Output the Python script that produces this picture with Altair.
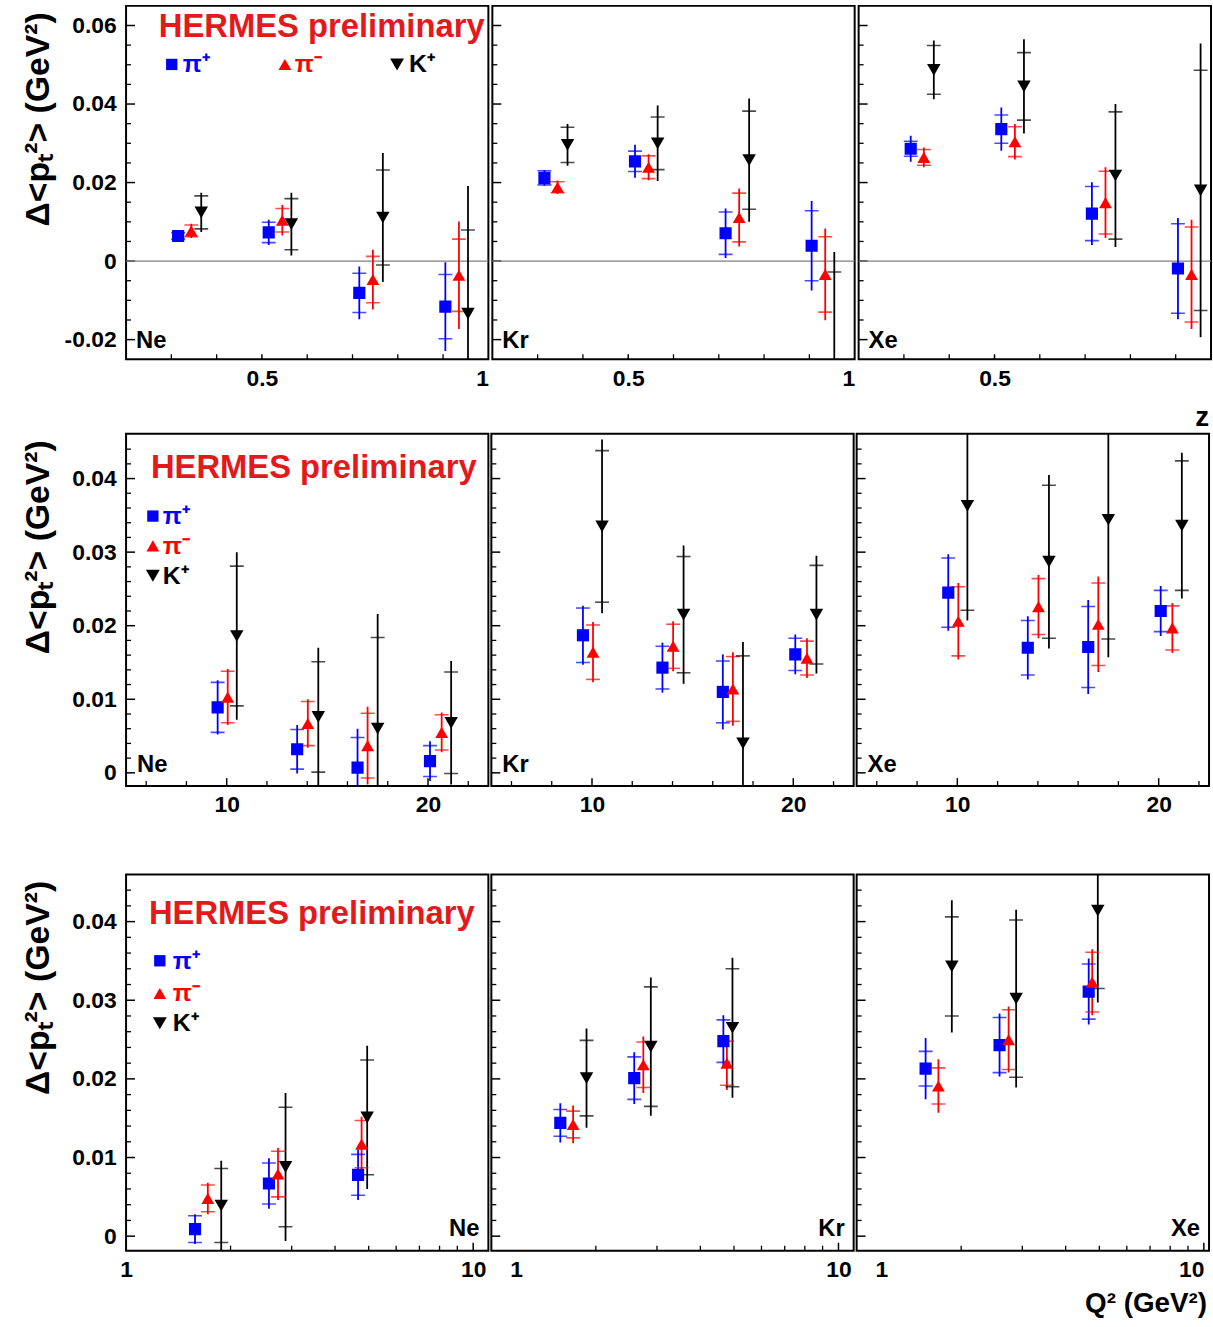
import altair as alt
import pandas as pd

FONT = "Liberation Sans"
HADRONS = ["pi+", "pi-", "K+"]
HADRON_COLORS = ["#0000ff", "#ff0000", "#000000"]
HADRON_SHAPES = ["square", "triangle-up", "triangle-down"]
MARKER_SIZES = [150, 185, 215]
LEGEND_LABELS = ["π⁺", "π⁻", "K⁺"]
ATOMS = ["Ne", "Kr", "Xe"]
PRELIM = "HERMES preliminary"
Y_TITLE = "Δ<pₜ²> (GeV²)"
RED_TEXT = "#e3191c"

# ---------------- top row: z dependence (inner lists: Ne, Kr, Xe) ----------------
Z_X_PIP = [0.315, 0.515, 0.715, 0.905]
Z_X_PIM = [0.344, 0.545, 0.745, 0.935]
Z_X_KP = [0.366, 0.565, 0.767, 0.955]
Z_VAL_PIP = [[0.0064, 0.0073, -0.0081, -0.0116], [0.0212, 0.0254, 0.0071, 0.0039], [0.0286, 0.0336, 0.0121, -0.0019]]
Z_STAT_PIP = [[0.0008, 0.0026, 0.0050, 0.0082], [0.0018, 0.0026, 0.0054, 0.0089], [0.0019, 0.0036, 0.0069, 0.0114]]
Z_TOT_PIP = [[0.0010, 0.0032, 0.0067, 0.0113], [0.0020, 0.0042, 0.0063, 0.0114], [0.0033, 0.0055, 0.0080, 0.0129]]
Z_VAL_PIM = [[0.0077, 0.0104, -0.0047, -0.0036], [0.0188, 0.0239, 0.0111, -0.0034], [0.0264, 0.0304, 0.0149, -0.0034]]
Z_STAT_PIM = [[0.0015, 0.0030, 0.0059, 0.0092], [0.0014, 0.0029, 0.0062, 0.0096], [0.0020, 0.0038, 0.0080, 0.0121]]
Z_TOT_PIM = [[0.0018, 0.0039, 0.0076, 0.0137], [0.0017, 0.0033, 0.0074, 0.0117], [0.0025, 0.0045, 0.0090, 0.0139]]
Z_VAL_KP = [[0.0124, 0.0094, 0.0111, -0.0134], [0.0296, 0.0300, 0.0257, -0.0300], [0.0487, 0.0445, 0.0218, 0.0180]]
Z_STAT_KP = [[0.0042, 0.0065, 0.0121, 0.0213], [0.0045, 0.0067, 0.0125, 0.0272], [0.0062, 0.0086, 0.0162, 0.0306]]
Z_TOT_KP = [[0.0050, 0.0080, 0.0164, 0.0325], [0.0053, 0.0096, 0.0157, 0.0323], [0.0075, 0.0120, 0.0182, 0.0374]]

# ---------------- middle row: nu dependence ----------------
NU_X_PIP = [9.55, 13.5, 16.5, 20.1]
NU_X_PIM = [10.05, 14.03, 17.0, 20.68]
NU_X_KP = [10.5, 14.55, 17.5, 21.15]
NU_VAL_PIP = [[0.0089, 0.0032, 0.0007, 0.0016], [0.0187, 0.0143, 0.0110, 0.0161], [0.0245, 0.0170, 0.0171, 0.0220]]
NU_STAT_PIP = [[0.0034, 0.0027, 0.0041, 0.0021], [0.0037, 0.0029, 0.0042, 0.0022], [0.0047, 0.0037, 0.0055, 0.0028]]
NU_TOT_PIP = [[0.0037, 0.0033, 0.0053, 0.0027], [0.0040, 0.0034, 0.0051, 0.0027], [0.0052, 0.0043, 0.0064, 0.0034]]
NU_VAL_PIM = [[0.0103, 0.0067, 0.0037, 0.0055], [0.0164, 0.0172, 0.0114, 0.0156], [0.0206, 0.0226, 0.0202, 0.0197]]
NU_STAT_PIM = [[0.0035, 0.0030, 0.0044, 0.0024], [0.0037, 0.0030, 0.0044, 0.0023], [0.0047, 0.0038, 0.0056, 0.0030]]
NU_TOT_PIM = [[0.0038, 0.0033, 0.0053, 0.0027], [0.0041, 0.0034, 0.0050, 0.0027], [0.0052, 0.0043, 0.0065, 0.0034]]
NU_VAL_KP = [[0.0186, 0.0076, 0.0060, 0.0068], [0.0335, 0.0215, 0.0040, 0.0215], [0.0363, 0.0287, 0.0344, 0.0336]]
NU_STAT_KP = [[0.0095, 0.0075, 0.0124, 0.0069], [0.0103, 0.0079, 0.0119, 0.0067], [0.0142, 0.0104, 0.0162, 0.0088]]
NU_TOT_KP = [[0.0114, 0.0094, 0.0156, 0.0084], [0.0118, 0.0094, 0.0138, 0.0080], [0.0156, 0.0118, 0.0187, 0.0099]]

# ---------------- bottom row: Q^2 dependence ----------------
Q2_X_PIP = [1.58, 2.58, 4.66]
Q2_X_PIM = [1.72, 2.74, 4.77]
Q2_X_KP = [1.88, 2.88, 4.95]
Q2_VAL_PIP = [[0.0009, 0.0067, 0.0078], [0.0144, 0.0201, 0.0248], [0.0213, 0.0243, 0.0311]]
Q2_STAT_PIP = [[0.0017, 0.0026, 0.0026], [0.0017, 0.0027, 0.0027], [0.0022, 0.0035, 0.0035]]
Q2_TOT_PIP = [[0.0019, 0.0032, 0.0032], [0.0025, 0.0033, 0.0033], [0.0039, 0.0040, 0.0042]]
Q2_VAL_PIM = [[0.0048, 0.0079, 0.0117], [0.0142, 0.0218, 0.0220], [0.0191, 0.0250, 0.0323]]
Q2_STAT_PIM = [[0.0017, 0.0029, 0.0030], [0.0017, 0.0029, 0.0028], [0.0023, 0.0038, 0.0038]]
Q2_TOT_PIM = [[0.0020, 0.0033, 0.0035], [0.0024, 0.0036, 0.0034], [0.0034, 0.0042, 0.0042]]
Q2_VAL_KP = [[0.0039, 0.0088, 0.0151], [0.0201, 0.0241, 0.0265], [0.0343, 0.0302, 0.0414]]
Q2_STAT_KP = [[0.0047, 0.0076, 0.0073], [0.0048, 0.0076, 0.0075], [0.0063, 0.0100, 0.0099]]
Q2_TOT_KP = [[0.0057, 0.0094, 0.0091], [0.0063, 0.0088, 0.0089], [0.0084, 0.0113, 0.0117]]

# ---------------- axis ticks / labels ----------------
Z_XLABELS = [[0.5, 1.0], [0.5, 1.0], [0.5]]
Z_XMAJOR = [0.5]
Z_XMINOR = [0.3, 0.4, 0.6, 0.7, 0.8, 0.9]
Z_YMAJOR = [-0.02, 0, 0.02, 0.04, 0.06]
Z_YMINOR = [-0.015, -0.01, -0.005, 0.005, 0.01, 0.015, 0.025, 0.03, 0.035, 0.045, 0.05, 0.055]
NU_XLABELS = [[10, 20], [10, 20], [10, 20]]
NU_XMAJOR = [10, 20]
NU_XMINOR = [6, 8, 12, 14, 16, 18, 22]
Q2_XLABELS = [[1, 10], [1, 10], [1, 10]]
Q2_XMAJOR = [10]
Q2_XMINOR = [2, 3, 4, 5, 6, 7, 8, 9]
LOW_YMAJOR = [0, 0.01, 0.02, 0.03, 0.04]
LOW_YMINOR = [0.002, 0.004, 0.006, 0.008, 0.012, 0.014, 0.016, 0.018, 0.022, 0.024,
              0.026, 0.028, 0.032, 0.034, 0.036, 0.038, 0.042, 0.044]

PANEL_W = [365, 365, 355]

ROWS = [
    dict(H=356, xtype="linear", xdom=[[0.2, 1.0], [0.2, 1.0], [0.2, 0.978]], ydom=[-0.025, 0.065],
         xs=[Z_X_PIP, Z_X_PIM, Z_X_KP], vals=[Z_VAL_PIP, Z_VAL_PIM, Z_VAL_KP],
         stats=[Z_STAT_PIP, Z_STAT_PIM, Z_STAT_KP], tots=[Z_TOT_PIP, Z_TOT_PIM, Z_TOT_KP],
         xlabels=Z_XLABELS, xfmt="~g", xmajor=Z_XMAJOR, xminor=Z_XMINOR, ymajor=Z_YMAJOR, yminor=Z_YMINOR,
         zero=True, prelim=(33, 31), legend_pos=[(46, 59, 57), (160, 59, 170), (273, 59, 285)],
         atom_pos="bl", atom_xy=(10, -11), xmaj_len=5),
    dict(H=355, xtype="linear", xdom=[[5, 23], [5, 23], [5, 22.5]], ydom=[-0.0018, 0.0461],
         xs=[NU_X_PIP, NU_X_PIM, NU_X_KP], vals=[NU_VAL_PIP, NU_VAL_PIM, NU_VAL_KP],
         stats=[NU_STAT_PIP, NU_STAT_PIM, NU_STAT_KP], tots=[NU_TOT_PIP, NU_TOT_PIM, NU_TOT_KP],
         xlabels=NU_XLABELS, xfmt="d", xmajor=NU_XMAJOR, xminor=NU_XMINOR, ymajor=LOW_YMAJOR, yminor=LOW_YMINOR,
         zero=False, prelim=(25, 45), legend_pos=[(27, 83, 37), (27, 113, 37), (27, 143, 37)],
         atom_pos="bl", atom_xy=(11, -14), xmaj_len=8),
    dict(H=379, xtype="log", xdom=[[1, 11.06], [1, 11.06], [1, 10.35]], ydom=[-0.00184, 0.046],
         xs=[Q2_X_PIP, Q2_X_PIM, Q2_X_KP], vals=[Q2_VAL_PIP, Q2_VAL_PIM, Q2_VAL_KP],
         stats=[Q2_STAT_PIP, Q2_STAT_PIM, Q2_STAT_KP], tots=[Q2_TOT_PIP, Q2_TOT_PIM, Q2_TOT_KP],
         xlabels=Q2_XLABELS, xfmt="~g", xmajor=Q2_XMAJOR, xminor=Q2_XMINOR, ymajor=LOW_YMAJOR, yminor=LOW_YMINOR,
         zero=False, prelim=(23, 50), legend_pos=[(34, 87, 47), (34, 120, 47), (34, 150, 47)],
         atom_pos="br", atom_xy=(-9, -15), xmaj_len=8),
]


def build_df(R, a):
    rows = []
    for h in range(3):
        for x, v, s, t in zip(R["xs"][h], R["vals"][h][a], R["stats"][h][a], R["tots"][h][a]):
            rows.append({"x": x, "v": v, "slo": v - s, "shi": v + s,
                         "tlo": v - t, "thi": v + t, "h": HADRONS[h]})
    return pd.DataFrame(rows)


def text_layer(s, x, y, size, color="black", align="left", baseline="alphabetic", weight="bold"):
    return alt.Chart(pd.DataFrame({"s": [s]})).mark_text(
        align=align, baseline=baseline, font=FONT, fontSize=size, fontWeight=weight, color=color
    ).encode(text="s:N", x=alt.value(x), y=alt.value(y))


def make_panel(r, a):
    R = ROWS[r]
    W = PANEL_W[a]
    H = R["H"]
    df = build_df(R, a)
    xscale = alt.Scale(type=R["xtype"], domain=R["xdom"][a], nice=False, zero=False)
    yscale = alt.Scale(domain=R["ydom"], nice=False, zero=False)

    xa = dict(values=R["xlabels"][a], format=R["xfmt"], ticks=False, domain=False, grid=False,
              labelFlush=False, labelFont=FONT, labelFontSize=23, labelFontWeight="bold",
              labelColor="black", labelPadding=8, title=None)
    if r == 0:
        xa["labelAlign"] = {"condition": {"test": "datum.value == 1", "value": "right"}, "value": "center"}
    if r == 2 and a > 0:
        xa["labelOffset"] = {"condition": {"test": "datum.value == 1", "value": 25}, "value": 0}
    if r == 2 and a == 2:
        xa["labelAlign"] = {"condition": {"test": "datum.value == 10", "value": "right"}, "value": "center"}
    xaxis = alt.Axis(**xa)

    if a == 0:
        yaxis = alt.Axis(values=R["ymajor"],
                         labelExpr="datum.value < 0 ? '-' + format(-datum.value, '~g') : format(datum.value, '~g')",
                         ticks=False, domain=False, grid=False, labelFont=FONT, labelFontSize=23,
                         labelFontWeight="bold", labelColor="black", labelPadding=10,
                         title=Y_TITLE, titleFont=FONT, titleFontSize=34, titleFontWeight="bold",
                         titleColor="black", titleAngle=270, titleAlign="right", titleBaseline="middle",
                         titleX=-88, titleY=6)
    else:
        yaxis = None

    def X(f):
        return alt.X(f, type="quantitative", scale=xscale, axis=xaxis)

    def Y(f):
        return alt.Y(f, type="quantitative", scale=yscale, axis=yaxis)

    color = alt.Color("h:N", scale=alt.Scale(domain=HADRONS, range=HADRON_COLORS), legend=None)
    shape = alt.Shape("h:N", scale=alt.Scale(domain=HADRONS, range=HADRON_SHAPES), legend=None)
    size = alt.Size("h:N", scale=alt.Scale(domain=HADRONS, range=MARKER_SIZES), legend=None)

    layers = []
    # axis ticks drawn inward
    layers.append(alt.Chart(pd.DataFrame({"t": R["ymajor"]})).mark_rule(color="black", strokeWidth=1.5)
                  .encode(y=Y("t"), x=alt.value(0), x2=alt.value(9)))
    layers.append(alt.Chart(pd.DataFrame({"t": R["yminor"]})).mark_rule(color="black", strokeWidth=1.3)
                  .encode(y=Y("t"), x=alt.value(0), x2=alt.value(5)))
    layers.append(alt.Chart(pd.DataFrame({"t": R["xmajor"]})).mark_rule(color="black", strokeWidth=1.5)
                  .encode(x=X("t"), y=alt.value(H), y2=alt.value(H - R["xmaj_len"])))
    layers.append(alt.Chart(pd.DataFrame({"t": R["xminor"]})).mark_rule(color="black", strokeWidth=1.3)
                  .encode(x=X("t"), y=alt.value(H), y2=alt.value(H - 5)))
    if R["zero"]:
        layers.append(alt.Chart(pd.DataFrame({"t": [0.0]})).mark_rule(color="#808080", strokeWidth=1.2)
                      .encode(y=Y("t")))

    base = alt.Chart(df)
    layers.append(base.mark_rule(strokeWidth=1.8, clip=True)
                  .encode(x=X("x"), y=Y("tlo"), y2="thi:Q", color=color))
    layers.append(base.mark_tick(orient="horizontal", size=14, thickness=1.6, clip=True)
                  .encode(x=X("x"), y=Y("slo"), color=color))
    layers.append(base.mark_tick(orient="horizontal", size=14, thickness=1.6, clip=True)
                  .encode(x=X("x"), y=Y("shi"), color=color))
    layers.append(base.mark_point(filled=True, opacity=1, clip=True)
                  .encode(x=X("x"), y=Y("v"), color=color, shape=shape, size=size))

    # atom label
    ax, ay = R["atom_xy"]
    if R["atom_pos"] == "bl":
        layers.append(text_layer(ATOMS[a], ax, H + ay, 24))
    else:
        layers.append(text_layer(ATOMS[a], W + ax, H + ay, 24, align="right"))

    if a == 0:
        px, py = R["prelim"]
        layers.append(text_layer(PRELIM, px, py, 33, color=RED_TEXT))
        for i in range(3):
            mx, my, tx = R["legend_pos"][i]
            layers.append(alt.Chart(pd.DataFrame({"h": [HADRONS[i]]})).mark_point(
                filled=True, opacity=1, shape=HADRON_SHAPES[i], color=HADRON_COLORS[i],
                size=MARKER_SIZES[i] - 20).encode(x=alt.value(mx), y=alt.value(my)))
            layers.append(text_layer(LEGEND_LABELS[i], tx, my, 25, color=HADRON_COLORS[i],
                                     baseline="middle"))

    if a == 2 and r == 0:
        layers.append(text_layer("z", W - 2, H + 67, 28, align="right"))
    if a == 2 and r == 2:
        layers.append(text_layer("Q² (GeV²)", W - 2, H + 62, 28, align="right"))

    return alt.layer(*layers).properties(width=W, height=H)


rows = []
for r in range(3):
    rows.append(alt.hconcat(*[make_panel(r, a) for a in range(3)], spacing=0)
                .resolve_scale(x="independent", y="independent"))

chart = alt.vconcat(alt.vconcat(rows[0], rows[1], spacing=0), rows[2], spacing=56).properties(
    padding={"left": 21, "top": 0, "right": 0, "bottom": 0},
    background="white",
).configure_view(stroke="black", strokeWidth=2)

chart.save("out.html", embed_options={"renderer": "svg", "actions": False})
